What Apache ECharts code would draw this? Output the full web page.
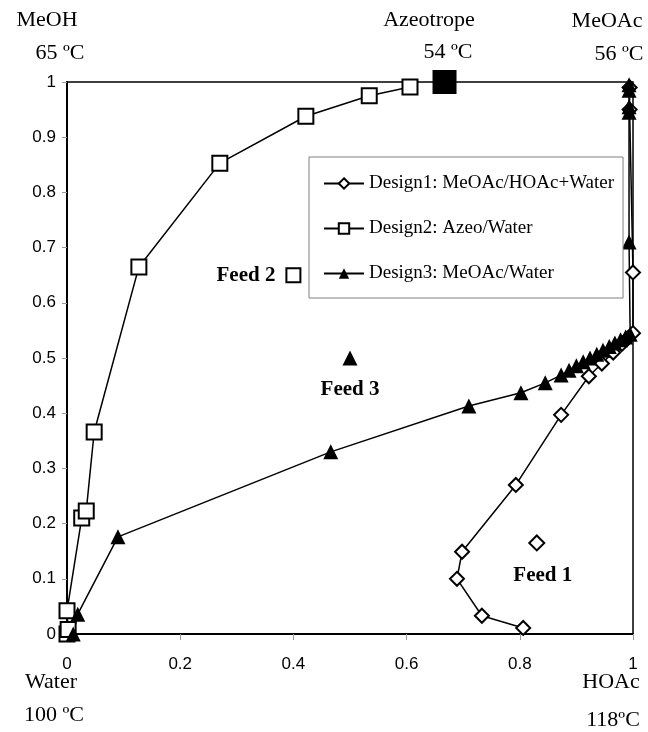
<!DOCTYPE html>
<html lang="en" style="height: 100%">
<head>
    <meta charset="UTF-8" />
    <title>Ternary design paths</title>
    <style>
        body { margin: 0; background: #fff; }
        #container { width: 648px; height: 732px; }
    </style>
</head>
<body>
    <div id="container"></div>
    <script src="https://cdn.jsdelivr.net/npm/echarts@6/dist/echarts.min.js"></script>
    <script type="text/javascript">
        // series names (legend)
        var seriesNames = ['Design1: MeOAc/HOAc+Water', 'Design2: Azeo/Water', 'Design3: MeOAc/Water'];

        // Design1 (diamonds)
        var d1X = [0.806, 0.733, 0.689, 0.698, 0.793, 0.873, 0.922, 0.945, 0.965, 0.98, 0.99, 1.0, 1.0, 0.994, 0.994];
        var d1Y = [0.011, 0.033, 0.1, 0.149, 0.27, 0.397, 0.467, 0.49, 0.51, 0.525, 0.535, 0.545, 0.655, 0.95, 0.99];

        // Design2 (squares)
        var d2X = [0, 0.002, 0, 0.026, 0.034, 0.048, 0.127, 0.27, 0.422, 0.534, 0.606];
        var d2Y = [0, 0.008, 0.042, 0.21, 0.223, 0.366, 0.665, 0.853, 0.938, 0.975, 0.991];

        // Design3 (triangles)
        var d3X = [0.011, 0.019, 0.09, 0.466, 0.71, 0.802, 0.845, 0.873, 0.887, 0.9, 0.912, 0.924, 0.936, 0.947, 0.958, 0.968, 0.978, 0.987, 0.995, 0.993, 0.993, 0.993, 0.993, 0.993];
        var d3Y = [0.0, 0.036, 0.176, 0.33, 0.413, 0.437, 0.455, 0.469, 0.478, 0.486, 0.493, 0.5, 0.507, 0.514, 0.521, 0.527, 0.533, 0.538, 0.543, 0.71, 0.945, 0.955, 0.985, 0.995];

        // azeotrope point
        var azeoX = [0.667];
        var azeoY = [1.0];

        // feeds
        var feedNames = ['Feed 1', 'Feed 2', 'Feed 3'];
        var feedX = [0.83, 0.4, 0.5];
        var feedY = [0.165, 0.65, 0.5];

        // axis ticks
        var xTicks = [0, 0.2, 0.4, 0.6, 0.8, 1];
        var yTicks = [0, 0.1, 0.2, 0.3, 0.4, 0.5, 0.6, 0.7, 0.8, 0.9, 1];

        function pairs(xs, ys) {
            var out = [];
            for (var i = 0; i < xs.length; i++) out.push([xs[i], ys[i]]);
            return out;
        }

        var serif = '"Liberation Serif", "Times New Roman", serif';
        var sans = '"Liberation Sans", Arial, sans-serif';

        var feedStyle = [
            { symbol: 'emptyDiamond', symbolSize: 15, label: { position: 'bottom', distance: 14, offset: [6, 0] } },
            { symbol: 'emptyRect', symbolSize: 14, label: { position: 'left', distance: 10 } },
            { symbol: 'triangle', symbolSize: 15, label: { position: 'bottom', distance: 14 } }
        ];
        var feedData = [];
        for (var i = 0; i < feedNames.length; i++) {
            feedData.push({
                name: feedNames[i],
                value: [feedX[i], feedY[i]],
                symbol: feedStyle[i].symbol,
                symbolSize: feedStyle[i].symbolSize,
                label: Object.assign({ show: true, formatter: '{b}' }, feedStyle[i].label)
            });
        }

        function cornerText(text, x, y) {
            return {
                type: 'text',
                x: x,
                y: y,
                style: {
                    text: text,
                    font: '22px ' + serif,
                    fill: '#000',
                    align: 'center',
                    verticalAlign: 'middle',
                    textAlign: 'center',
                    textVerticalAlign: 'middle'
                }
            };
        }

        var lineStyle = { color: '#000', width: 1.5 };

        var dom = document.getElementById('container');
        var myChart = echarts.init(dom, null, { renderer: 'canvas' });
        var option = {
            animation: false,
            backgroundColor: '#fff',
            grid: {
                left: 67, right: 15, top: 82, bottom: 98,
                show: true, borderColor: '#000', borderWidth: 1.5
            },
            legend: {
                data: seriesNames,
                orient: 'vertical',
                left: 309,
                top: 157,
                padding: [17, 9, 15, 14],
                itemGap: 26,
                itemWidth: 40,
                itemHeight: 13,
                backgroundColor: '#fff',
                borderColor: '#808080',
                borderWidth: 1,
                textStyle: { fontFamily: serif, fontSize: 19, color: '#000' }
            },
            xAxis: {
                type: 'value',
                min: 0, max: 1, interval: 0.2,
                axisLine: { show: true, onZero: false, lineStyle: { color: '#000', width: 2 } },
                axisTick: { show: true, length: 6, lineStyle: { color: '#999' } },
                axisLabel: {
                    margin: 22, fontFamily: sans, fontSize: 17, color: '#000',
                    formatter: function (v) { return xTicks.indexOf(+v.toFixed(1)) >= 0 ? String(+v.toFixed(1)) : ''; }
                },
                splitLine: { show: false }
            },
            yAxis: {
                type: 'value',
                min: 0, max: 1, interval: 0.1,
                axisLine: { show: true, onZero: false, lineStyle: { color: '#000', width: 2 } },
                axisTick: { show: true, length: 5, lineStyle: { color: '#999' } },
                axisLabel: {
                    margin: 11, fontFamily: sans, fontSize: 17, color: '#000',
                    formatter: function (v) { return yTicks.indexOf(+v.toFixed(1)) >= 0 ? String(+v.toFixed(1)) : ''; }
                },
                splitLine: { show: false }
            },
            graphic: [
                cornerText('MeOH', 47, 20),
                cornerText('65 ºC', 60, 53),
                cornerText('Azeotrope', 429, 20),
                cornerText('54 ºC', 448, 52),
                cornerText('MeOAc', 607, 21),
                cornerText('56 ºC', 619, 54),
                cornerText('Water', 51, 682),
                cornerText('100 ºC', 54, 715),
                cornerText('HOAc', 611, 682),
                cornerText('118ºC', 613, 720)
            ],
            series: [
                {
                    name: seriesNames[0],
                    type: 'line',
                    data: pairs(d1X, d1Y),
                    symbol: 'emptyDiamond',
                    symbolSize: 14,
                    clip: false,
                    lineStyle: lineStyle,
                    itemStyle: { color: '#000', borderWidth: 1.5 }
                },
                {
                    name: seriesNames[1],
                    type: 'line',
                    data: pairs(d2X, d2Y),
                    symbol: 'emptyRect',
                    symbolSize: 15,
                    clip: false,
                    lineStyle: lineStyle,
                    itemStyle: { color: '#000', borderWidth: 1.5 }
                },
                {
                    name: seriesNames[2],
                    type: 'line',
                    data: pairs(d3X, d3Y),
                    symbol: 'triangle',
                    symbolSize: 15,
                    clip: false,
                    lineStyle: lineStyle,
                    itemStyle: { color: '#000' }
                },
                {
                    name: 'Azeotrope',
                    type: 'scatter',
                    data: pairs(azeoX, azeoY),
                    symbol: 'rect',
                    symbolSize: 24,
                    clip: false,
                    itemStyle: { color: '#000', opacity: 1 },
                    z: 5
                },
                {
                    name: 'Feeds',
                    type: 'scatter',
                    data: feedData,
                    clip: false,
                    itemStyle: { color: '#000', borderWidth: 1.5, opacity: 1 },
                    label: { fontFamily: serif, fontWeight: 'bold', fontSize: 21, color: '#000', opacity: 1 }
                }
            ]
        };
        if (option && typeof option === 'object') {
            myChart.setOption(option, true);
        }
    </script>
</body>
</html>
